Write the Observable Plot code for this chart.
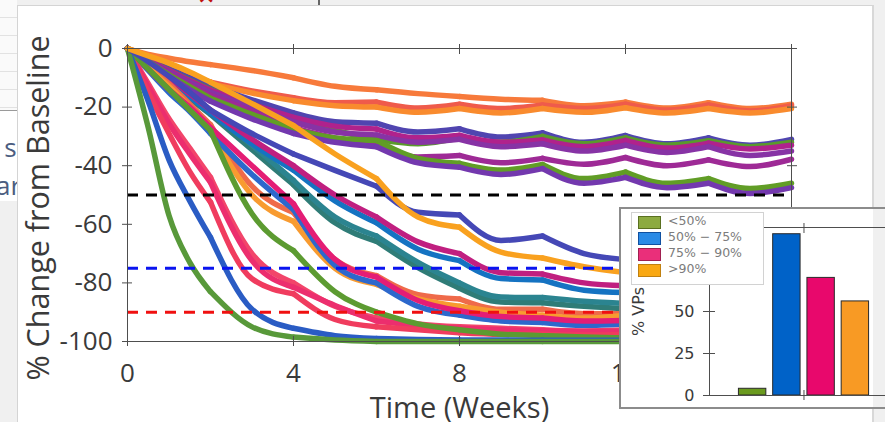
<!DOCTYPE html>
<html><head><meta charset="utf-8">
<script src="https://cdn.jsdelivr.net/npm/d3@7"></script>
<script src="https://cdn.jsdelivr.net/npm/@observablehq/plot@0.6"></script>
<style>
html,body{margin:0;padding:0;width:885px;height:422px;overflow:hidden;background:#f0f0f0;font-family:"Open Sans",sans-serif;}
#sheet{position:absolute;left:0;top:0;width:17px;height:110px;background:#fafafa;border-bottom:1px solid #9a9a9a;
  background-image:repeating-linear-gradient(to bottom,#fafafa 0,#fafafa 17px,#e2e2e2 17px,#e2e2e2 18px);}
#frag{position:absolute;left:0;top:111px;width:17px;height:90px;background:#fff;overflow:hidden;}
.fragtxt{position:absolute;font-family:"Open Sans";font-size:26px;color:#4c5d80;white-space:nowrap;}
#closex{position:absolute;left:197px;top:-17px;font-family:"DejaVu Sans";font-size:22px;color:#c01010;font-weight:bold;}
#tabline{position:absolute;left:318px;top:0;width:2px;height:6px;background:#666;}
#panel{position:absolute;left:17px;top:5px;width:854px;height:440px;background:#fff;border:1px solid #d4d4d4;border-right:2px solid #d8d8d8;}
#main{position:absolute;left:0;top:0;}
#inset{position:absolute;left:619px;top:207px;width:300px;height:198px;border:2px solid #8c8c8c;
  background:linear-gradient(to right,#fff 0,#fff 252px,#f0f0f0 252px);}
#legend{position:absolute;left:10px;top:3px;width:131px;height:71px;background:#fff;border:1px solid #d2d2d2;
  font-family:"DejaVu Sans";font-size:12.5px;color:#7c7c7c;}
.sw{position:absolute;left:6px;width:21px;height:11px;border:1px solid;}
.lt{position:absolute;left:36px;white-space:nowrap;line-height:14px;}
</style>
</head><body>
<div id="sheet"></div>
<div id="frag"><span class="fragtxt" style="left:-9px;top:18px;">l s</span><span class="fragtxt" style="left:-4px;top:56px;">ar</span></div>
<div id="closex">×</div>
<div id="tabline"></div>
<div id="panel"></div>
<div id="main"></div>
<div id="inset"><div id="insetplot"></div><div id="legend"></div></div>
<script>
// ---------- main chart data ----------
const times = [0,0.5,1,1.5,2,3,4,5,6,7,8,9,10,11,12,13,14,15,16];
const doseEvery = 2;
const xTicks = [0,4,8,12,16];
const yTicks = [0,-20,-40,-60,-80,-100];
const refLevels = [-50,-75,-90];
const refColors = ["#000000","#0a14f0","#f01010"];

// virtual patients that stay above -50% (values to week 16)
const u1 = [0,-2,-3.3,-4.5,-5.5,-7.5,-10,-12.9,-14.1,-15.4,-16.4,-17.3,-17.7,-19.5,-18.3,-20.3,-18.5,-20.5,-19];
const u2 = [0,-2.8,-6,-9,-11.5,-14.5,-16.8,-18.5,-18.3,-20.3,-19,-20.5,-19.3,-20.5,-19,-21,-19.3,-21.3,-19.5];
const u3 = [0,-3,-6.5,-9.5,-12,-15.2,-17.8,-19.5,-20,-21.8,-20.5,-22,-20.5,-21.8,-20.2,-22,-20.5,-22,-20.5];
const u4 = [0,-3.5,-7,-10,-13,-17.5,-22,-25,-25.5,-28.5,-27.4,-30.2,-28.8,-32,-29.7,-32.5,-30.5,-33,-31];
const ug = [0,-3.8,-7.5,-10.8,-14,-19,-24,-28,-31,-32.5,-30.5,-32,-30,-32.5,-30.5,-33,-31.5,-33.5,-32];
const u5 = [0,-4,-7.5,-11,-14.2,-19,-23.5,-26.5,-27.5,-30.5,-29.6,-32,-31.2,-33.5,-31.4,-34,-32.3,-34.3,-33];
const u6 = [0,-4.2,-8,-11.5,-15,-20,-25,-28.5,-29.5,-32,-31,-33.5,-32.5,-35,-33,-35.5,-33.5,-36.5,-35];
const u7 = [0,-4.5,-8.5,-12.5,-16,-21.5,-27,-30.5,-32.5,-37,-36.5,-39,-37.5,-39.5,-37.2,-40,-38,-40.3,-37.8];
const u8 = [0,-4.5,-9,-13,-17,-22.5,-27.5,-30.5,-31.4,-37.5,-39.2,-41.5,-39.6,-44.4,-42.2,-46,-44.4,-47.8,-46];
const u9 = [0,-5,-9.5,-14,-18,-24,-29,-32,-33.5,-39,-40.5,-43,-41,-46,-44,-47.5,-46,-49.5,-47.5];
// virtual patients that go below -50% (values to week 12; the rest is behind the inset)
const li = [0,-4.5,-9.5,-15,-21,-29,-36,-41.6,-47,-55.9,-56.8,-65.5,-64,-70,-72];
const o1 = [0,-2.5,-5,-8,-11.5,-18.8,-26.3,-36,-44.4,-57.5,-61,-69.5,-71.5,-74.5,-76.5];
const m1 = [0,-5,-10,-15.5,-21,-31,-40,-50,-57.5,-66,-70,-76.5,-77,-80,-81];
const b2 = [0,-5.5,-11,-16.5,-22,-32.5,-41.5,-52,-59.5,-68.5,-72.4,-78.5,-79,-82.5,-83.3];
const t1 = [0,-5,-10.5,-16,-21.5,-33,-45,-57.5,-64,-73,-80,-84.8,-85,-86.3,-87];
const t2 = [0,-5.3,-11.2,-17,-22.5,-34.5,-46.5,-59.5,-65.8,-74.8,-81.8,-86.5,-86.8,-88,-88.8];
const or1 = [0,-6,-12,-19,-26,-47,-56,-72,-77.5,-84,-85.5,-89,-89,-90.5,-90.5];
const o2 = [0,-6.5,-13,-20,-28,-50,-59,-75,-80.5,-85.5,-88,-90,-91,-92,-91];
const p1 = [0,-7,-14,-20,-27,-40,-53,-72,-78,-86,-89.5,-91.5,-92,-93,-92.8];
const b3 = [0,-7.5,-15,-21.5,-29,-43,-55,-74,-80,-88,-91,-93,-93.5,-94.5,-94];
const p4 = [0,-12,-24,-34,-44,-70,-80,-88,-92,-94,-95,-95.5,-96,-96.5,-96];
const p3 = [0,-13,-25.6,-36,-45.7,-72.4,-81.5,-87.7,-93,-94.5,-95.5,-96,-96.3,-96.5,-96.5];
const p2 = [0,-15,-29,-42,-52.4,-78.6,-83.7,-92.5,-95,-96,-97,-97.5,-97.5,-97.8,-97.5];
const g2 = [0,-7,-14,-21,-28,-56.4,-69,-83,-90,-94,-96,-97.5,-98,-98.5,-98.8];
const b1 = [0,-18,-38,-52,-64.5,-89,-95.5,-98,-99,-99.3,-99.5,-99.5,-99.6,-99.6,-99.6];
const g1 = [0,-27,-57,-73,-83,-95,-98.5,-99.5,-100,-100,-100,-100,-100,-100,-100];

const seriesValues = [u1,u2,u3,u4,ug,u5,u6,u7,u8,u9,t2,t1,b2,m1,or1,o2,b3,p1,p4,p3,p2,g2,b1,g1,li,o1];
const seriesColors = ["#f77a3b","#ef5b4b","#f98b2e","#5045b0","#5a9a2c","#b0228c","#8733a5","#9e2a96","#619d26","#7338ae",
  "#2f7c77","#2b8490","#1573c2","#c01f80","#ef6a4a","#f89b30","#2d68cc","#e41d75","#f2456a","#ec2e6e","#f03c5e","#5c9b31","#2a5cc4","#58993a","#4548b6","#f9a11f"];

// ---------- inset data ----------
const barCats = ["<50%","50% \u2212 75%","75% \u2212 90%",">90%"];
const barVals = [4,96,70,56];
const barColors = ["#6a9a1e","#0062c8","#e8086c","#f89a24"];
const swatchColors = ["#8caa40","#2a8ae6","#ea2f7a","#f9a812"];
const swatchBorders = ["#5a7020","#1050a0","#a02050","#c08010"];
const insetTicks = [0,25,50,75,100];
const insetTickLabels = [0,25,50];   // 75 and 100 sit behind the legend

const ink = "#3a3a3a", axisInk = "#4e4e4e";
const fmt = d => String(d);

// each dosing interval is drawn as its own smooth piece so the dose cusps stay sharp
function pieces(vals) {
  const out = [];
  vals.forEach((v, i) => {
    const t = times[i];
    const seg = Math.floor(t / doseEvery);
    if (i < vals.length - 1 || t % doseEvery !== 0) out.push({t, v, seg});
    if (t > 0 && t % doseEvery === 0) out.push({t, v, seg: t / doseEvery - 1});
  });
  return out;
}

const lineMarks = seriesValues.map((vals, k) =>
  Plot.line(pieces(vals), {
    x: "t", y: "v", z: "seg", stroke: seriesColors[k], strokeWidth: 5.5, curve: "monotone-x",
    strokeLinejoin: "round", strokeLinecap: "round"
  }));

const main = Plot.plot({
  width: 885, height: 422,
  marginLeft: 127, marginRight: 94, marginTop: 48, marginBottom: 81,
  x: {domain: [0, 16]},
  y: {domain: [-100, 0]},
  style: {background: "transparent", fontFamily: "Open Sans", color: ink, fontSize: "26px", overflow: "visible"},
  marks: [
    ...lineMarks,
    ...refLevels.map((r, i) => Plot.ruleY([r], {stroke: refColors[i], strokeWidth: 3, strokeDasharray: "11,8"})),
    Plot.frame({stroke: axisInk, strokeWidth: 1}),
    Plot.axisY(yTicks, {anchor: "left", tickSize: 10, dx: 5, tickFormat: () => "", stroke: axisInk, label: null}),
    Plot.axisY(yTicks, {anchor: "right", tickSize: 10, dx: -5, tickFormat: () => "", stroke: axisInk, label: null}),
    Plot.axisX(xTicks, {anchor: "bottom", tickSize: 10, dy: -5, tickFormat: () => "", stroke: axisInk, label: null}),
    Plot.axisX(xTicks, {anchor: "top", tickSize: 10, dy: 5, tickFormat: () => "", stroke: axisInk, label: null}),
    Plot.axisY(yTicks, {anchor: "left", tickSize: 0, tickPadding: 15, tickFormat: fmt, fontSize: 26, fill: ink, label: null}),
    Plot.axisX(xTicks, {anchor: "bottom", tickSize: 0, tickPadding: 22, tickFormat: fmt, fontSize: 26, fill: ink, label: null}),
    Plot.text(["Time (Weeks)"], {text: d => d, frameAnchor: "bottom", lineAnchor: "bottom", dy: 76, fontSize: 29, fill: ink}),
    Plot.text(["% Change from Baseline"], {text: d => d, frameAnchor: "left", textAnchor: "middle", rotate: -90, dx: -88, dy: 13, fontSize: 30.5, fill: ink})
  ]
});
document.getElementById("main").appendChild(main);

const inset = Plot.plot({
  width: 300, height: 198,
  marginLeft: 88, marginRight: 24, marginTop: 18, marginBottom: 12,
  x: {type: "band", domain: barCats, range: [114, 251], paddingInner: 0.2, paddingOuter: 0.1, round: false},
  y: {domain: [0, 100]},
  color: {domain: barCats, range: barColors},
  style: {background: "transparent", fontFamily: "DejaVu Sans", color: ink, fontSize: "16px"},
  marks: [
    Plot.barY(barVals.map((v, i) => ({c: barCats[i], v})), {x: "c", y: "v", fill: "c", stroke: "#2a2a2a", strokeWidth: 1}),
    Plot.frame({stroke: axisInk, strokeWidth: 1}),
    Plot.axisY(insetTicks, {anchor: "left", tickSize: 12, dx: 6, tickFormat: () => "", stroke: axisInk, label: null}),
    Plot.axisY(insetTickLabels, {anchor: "left", tickSize: 0, tickPadding: 15, tickFormat: fmt, fontSize: 16, fill: ink, label: null}),
    Plot.axisX([barCats[1]], {anchor: "bottom", tickSize: 10, dy: -5, dx: 17.1, tickFormat: () => "", stroke: axisInk, label: null}),
    Plot.axisX([barCats[1]], {anchor: "top", tickSize: 10, dy: 5, dx: 17.1, tickFormat: () => "", stroke: axisInk, label: null}),
    Plot.text(["% VPs"], {text: d => d, frameAnchor: "left", textAnchor: "middle", rotate: -90, dx: -71, dy: 0, fontSize: 16, fill: ink})
  ]
});
document.getElementById("insetplot").appendChild(inset);

const legend = document.getElementById("legend");
barCats.forEach((c, i) => {
  const sw = document.createElement("div");
  sw.className = "sw";
  sw.style.top = (3 + i * 16) + "px";
  sw.style.background = swatchColors[i];
  sw.style.borderColor = swatchBorders[i];
  legend.appendChild(sw);
  const t = document.createElement("div");
  t.className = "lt";
  t.style.top = (1 + i * 16) + "px";
  t.textContent = c;
  legend.appendChild(t);
});
</script>
</body></html>
